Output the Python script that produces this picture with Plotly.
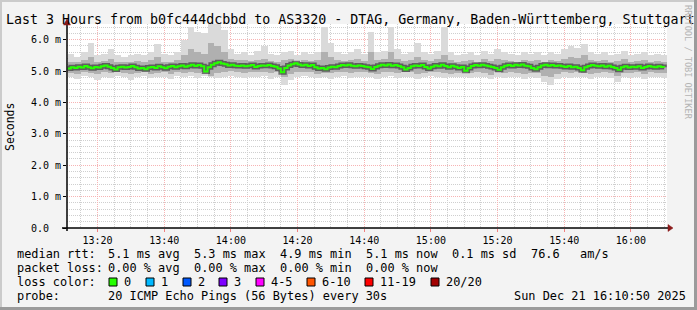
import plotly.graph_objects as go
import pandas as pd

# ---------------- data ----------------
title_text = "Last 3 Hours from b0fc444dcbbd to AS3320 - DTAG, Germany, Baden-Württemberg, Stuttgart"
range_start = "2025-12-21 13:10:50"
range_end = "2025-12-21 16:10:50"

# median rtt (ms), one value per minute from 13:11
median_rtt = [
    5.08, 5.12, 5.10, 5.14, 5.11, 5.16, 5.12, 5.09, 5.13, 5.11,
    5.15, 5.18, 5.14, 5.10, 5.05, 5.12, 5.14, 5.11, 5.13, 5.16,
    5.12, 5.08, 5.10, 5.06, 5.11, 5.13, 5.10, 5.15, 5.12, 5.09,
    5.14, 5.16, 5.12, 5.15, 5.18, 5.14, 5.17, 5.20, 5.16, 5.19,
    5.15, 4.99, 5.12, 5.20, 5.25, 5.28, 5.24, 5.22, 5.18, 5.20,
    5.17, 5.16, 5.18, 5.15, 5.17, 5.19, 5.13, 5.16, 5.18, 5.17,
    5.19, 5.16, 5.14, 5.08, 4.96, 5.10, 5.18, 5.22, 5.25, 5.21,
    5.18, 5.20, 5.16, 5.19, 5.12, 5.08, 5.10, 5.06, 5.11, 5.14,
    5.12, 5.16, 5.19, 5.18, 5.20, 5.17, 5.15, 5.18, 5.16, 5.14,
    5.12, 5.07, 5.13, 5.17, 5.20, 5.18, 5.21, 5.17, 5.19, 5.16,
    5.12, 5.05, 5.10, 5.15, 5.18, 5.16, 5.19, 5.13, 5.08, 5.14,
    5.18, 5.15, 5.20, 5.16, 5.12, 5.17, 5.14, 5.10, 5.13, 5.01,
    5.10, 5.16, 5.19, 5.17, 5.20, 5.18, 5.15, 5.13, 5.10, 5.04,
    5.12, 5.17, 5.19, 5.16, 5.20, 5.18, 5.21, 5.17, 5.15, 5.10,
    5.06, 5.12, 5.18, 5.20, 5.17, 5.19, 5.16, 5.18, 5.15, 5.13,
    5.16, 5.12, 5.14, 5.10, 5.03, 5.12, 5.16, 5.19, 5.17, 5.15,
    5.18, 5.14, 5.17, 5.13, 5.10, 5.04, 5.12, 5.15, 5.11, 5.14,
    5.12, 5.15, 5.10, 5.13, 5.16, 5.14, 5.12, 5.15, 5.13, 5.12,
]

# smoke extents (ms), one value per 2-minute bin from 13:11
smoke_outer_hi = [
    5.55, 5.45, 5.60, 5.90, 5.50, 5.55, 5.70, 5.50, 5.45, 5.50,
    5.55, 5.50, 5.60, 5.85, 5.55, 5.50, 5.60, 6.00, 6.40, 6.25,
    6.20, 6.50, 6.50, 6.30, 5.70, 5.55, 5.60, 5.50, 5.65, 5.80,
    5.55, 5.50, 5.60, 5.65, 5.50, 5.60, 5.55, 5.60, 6.40, 5.90,
    5.60, 5.55, 5.60, 5.70, 5.55, 6.25, 5.60, 5.65, 6.40, 5.70,
    5.55, 5.60, 5.90, 5.60, 5.55, 5.65, 6.40, 5.60, 5.50, 5.55,
    5.60, 5.50, 5.65, 5.55, 5.70, 5.60, 5.55, 5.50, 5.60, 5.55,
    5.60, 5.50, 5.60, 5.55, 5.70, 5.80, 5.75, 5.85, 5.60, 5.55,
    5.60, 5.50, 5.55, 5.65, 5.50, 5.55, 5.60, 5.50, 5.55, 5.50,
]
smoke_outer_lo = [
    4.80, 4.75, 4.85, 4.80, 4.70, 4.82, 4.78, 4.85, 4.80, 4.72,
    4.80, 4.85, 4.78, 4.80, 4.82, 4.75, 4.85, 4.80, 4.83, 4.78,
    4.85, 4.80, 4.78, 4.82, 4.85, 4.80, 4.78, 4.82, 4.80, 4.85,
    4.75, 4.80, 4.55, 4.70, 4.80, 4.85, 4.80, 4.78, 4.82, 4.75,
    4.80, 4.85, 4.78, 4.80, 4.82, 4.80, 4.75, 4.80, 4.85, 4.78,
    4.80, 4.82, 4.75, 4.80, 4.85, 4.80, 4.78, 4.80, 4.82, 4.80,
    4.78, 4.82, 4.80, 4.75, 4.80, 4.78, 4.82, 4.80, 4.75, 4.80,
    4.78, 4.65, 4.55, 4.75, 4.80, 4.78, 4.82, 4.80, 4.75, 4.80,
    4.82, 4.78, 4.65, 4.80, 4.78, 4.80, 4.75, 4.82, 4.80, 4.78,
]
smoke_mid_hi = [
    5.30, 5.28, 5.35, 5.45, 5.30, 5.32, 5.40, 5.30, 5.28, 5.30,
    5.32, 5.30, 5.35, 5.45, 5.30, 5.30, 5.35, 5.50, 5.70, 5.60,
    5.55, 5.90, 5.80, 5.60, 5.40, 5.35, 5.35, 5.32, 5.35, 5.40,
    5.32, 5.30, 5.35, 5.38, 5.30, 5.35, 5.32, 5.35, 5.60, 5.45,
    5.35, 5.32, 5.35, 5.40, 5.32, 5.60, 5.35, 5.38, 5.60, 5.40,
    5.32, 5.35, 5.45, 5.35, 5.32, 5.38, 5.50, 5.35, 5.30, 5.32,
    5.35, 5.30, 5.38, 5.32, 5.40, 5.35, 5.32, 5.30, 5.35, 5.32,
    5.35, 5.30, 5.35, 5.32, 5.40, 5.45, 5.42, 5.50, 5.35, 5.32,
    5.35, 5.30, 5.32, 5.38, 5.30, 5.32, 5.35, 5.30, 5.32, 5.30,
]
smoke_mid_lo = [
    4.95, 4.92, 4.97, 4.95, 4.90, 4.96, 4.93, 4.97, 4.95, 4.90,
    4.95, 4.97, 4.92, 4.95, 4.96, 4.92, 4.97, 4.95, 4.97, 4.95,
    4.97, 4.85, 4.95, 4.97, 5.00, 4.96, 4.95, 4.97, 4.96, 4.98,
    4.95, 4.97, 4.80, 4.92, 4.97, 4.98, 4.96, 4.90, 4.93, 4.95,
    4.97, 4.98, 4.95, 4.96, 4.97, 4.95, 4.90, 4.96, 4.98, 4.95,
    4.96, 4.97, 4.92, 4.95, 4.98, 4.96, 4.95, 4.90, 4.95, 4.96,
    4.94, 4.97, 4.95, 4.88, 4.96, 4.94, 4.97, 4.95, 4.90, 4.95,
    4.94, 4.85, 4.80, 4.90, 4.96, 4.94, 4.97, 4.95, 4.90, 4.95,
    4.96, 4.93, 4.85, 4.95, 4.94, 4.96, 4.92, 4.96, 4.95, 4.94,
]

y_tick_vals = [0, 1, 2, 3, 4, 5, 6]
y_tick_text = ["0.0\u00a0\u00a0", "1.0 m", "2.0 m", "3.0 m", "4.0 m", "5.0 m", "6.0 m"]

rtt_labels = ["median rtt:", "5.1 ms avg", "5.3 ms max", "4.9 ms min", "5.1 ms now", "0.1 ms sd", "76.6", "am/s"]
loss_labels = ["packet loss:", "0.00 % avg", "0.00 % max", "0.00 % min", "0.00 % now"]
loss_color_names = ["0", "1", "2", "3", "4-5", "6-10", "11-19", "20/20"]
loss_color_values = ["#26ff00", "#00b8ff", "#0059ff", "#7e00ff", "#ff00ff", "#ff5500", "#ff0000", "#a10000"]
probe_labels = ["probe:", "20 ICMP Echo Pings (56 Bytes) every 30s", "Sun Dec 21 16:10:50 2025"]

# ---------------- layout helpers ----------------
W, H = 697, 310
PL, PR, PT, PB = 67, 667, 24, 228
FONT = "DejaVu Sans Mono"


def px(x):
    return (x - PL) / (PR - PL)


def py(y):
    return (PB - y) / (PB - PT)


med_t = pd.date_range("2025-12-21 13:11:00", periods=len(median_rtt), freq="1min")
bin_t = pd.date_range("2025-12-21 13:12:00", periods=len(smoke_outer_hi), freq="2min")

fig = go.Figure()
fig.add_trace(go.Bar(
    x=bin_t, base=smoke_outer_lo,
    y=[h - l for h, l in zip(smoke_outer_hi, smoke_outer_lo)],
    width=120000, marker=dict(color="#dadada", line=dict(width=0)),
    hoverinfo="skip", showlegend=False))
fig.add_trace(go.Bar(
    x=bin_t, base=smoke_mid_lo,
    y=[h - l for h, l in zip(smoke_mid_hi, smoke_mid_lo)],
    width=120000, marker=dict(color="#b0b0b0", line=dict(width=0)),
    hoverinfo="skip", showlegend=False))
fig.add_trace(go.Scatter(
    x=med_t, y=median_rtt, mode="lines", line=dict(color="rgba(40,40,40,0.6)", width=5, shape="hv"),
    hoverinfo="skip", showlegend=False))
fig.add_trace(go.Scatter(
    x=med_t, y=median_rtt, mode="lines", line=dict(color="#26ff00", width=2, shape="hv"),
    hoverinfo="skip", showlegend=False))

shapes = []
# frame shading
shapes.append(dict(type="rect", xref="paper", yref="paper", x0=px(0), x1=px(W), y0=py(0), y1=py(2),
                   fillcolor="#cbcbcb", line=dict(width=0), layer="below"))
shapes.append(dict(type="rect", xref="paper", yref="paper", x0=px(0), x1=px(2), y0=py(0), y1=py(H),
                   fillcolor="#cbcbcb", line=dict(width=0), layer="below"))
shapes.append(dict(type="rect", xref="paper", yref="paper", x0=px(W - 3), x1=px(W), y0=py(0), y1=py(H),
                   fillcolor="#9b9b9b", line=dict(width=0), layer="below"))
shapes.append(dict(type="rect", xref="paper", yref="paper", x0=px(0), x1=px(W), y0=py(H - 3), y1=py(H),
                   fillcolor="#9b9b9b", line=dict(width=0), layer="below"))
# axes
shapes.append(dict(type="line", xref="paper", yref="paper", x0=px(62), x1=px(669), y0=py(228), y1=py(228),
                   line=dict(color="#000000", width=1.5)))
shapes.append(dict(type="line", xref="paper", yref="paper", x0=px(67), x1=px(67), y0=py(231), y1=py(24),
                   line=dict(color="#000000", width=1.5)))
shapes.append(dict(type="path", xref="paper", yref="paper",
                   path=f"M {px(668)},{py(224.5)} L {px(673)},{py(228)} L {px(668)},{py(231.5)} Z",
                   fillcolor="#8b1a1a", line=dict(color="#8b1a1a", width=0.5)))
shapes.append(dict(type="path", xref="paper", yref="paper",
                   path=f"M {px(63.5)},{py(25)} L {px(67)},{py(19)} L {px(70.5)},{py(25)} Z",
                   fillcolor="#8b1a1a", line=dict(color="#8b1a1a", width=0.5)))

annotations = []


def txt(x, y, s, size=11.9, color="#000000", angle=0, anchor="left"):
    annotations.append(dict(x=px(x), y=py(y), xref="paper", yref="paper", text=s, showarrow=False,
                            xanchor=anchor, yanchor="middle", textangle=angle, borderpad=0,
                            font=dict(family=FONT, size=size, color=color)))


txt(5, 19, title_text, size=13.3)
txt(10, 127, "Seconds", size=11.5, angle=-90, anchor="center")
txt(688, 62, "RRDTOOL / TOBI OETIKER", size=8.6, color="#b4b4b4", angle=90, anchor="center")

col_x = [16, 107, 193, 279, 365, 451, 530, 579]
for i, s in enumerate(rtt_labels):
    txt(col_x[i], 254, s)
for i, s in enumerate(loss_labels):
    txt(col_x[i], 268, s)
txt(16, 282, "loss color:")
box_x = [109, 146, 183, 219, 256, 307, 365, 431]
for bx, name, c in zip(box_x, loss_color_names, loss_color_values):
    shapes.append(dict(type="rect", xref="paper", yref="paper", x0=px(bx), x1=px(bx + 8),
                       y0=py(278), y1=py(286), fillcolor=c, line=dict(color="#000000", width=1)))
    txt(bx + 14, 282, name)
txt(16, 296, probe_labels[0])
txt(107, 296, probe_labels[1])
txt(513, 296, probe_labels[2])

fig.update_layout(
    width=W, height=H,
    margin=dict(l=PL, r=W - PR, t=PT, b=H - PB, pad=0),
    paper_bgcolor="#f3f3f3", plot_bgcolor="#ffffff",
    barmode="overlay", bargap=0,
    showlegend=False,
    shapes=shapes, annotations=annotations,
    xaxis=dict(
        type="date", range=[range_start, range_end],
        tick0="2025-12-21 13:20:00", dtick=1200000, tickformat="%H:%M",
        ticks="outside", ticklen=3, tickcolor="#f08080",
        tickfont=dict(family=FONT, size=10, color="#000000"),
        showgrid=True, gridcolor="#f7b4b4", griddash="1px,1px", gridwidth=1,
        minor=dict(dtick=300000, tick0="2025-12-21 13:20:00", showgrid=True,
                   gridcolor="#cfcfcf", griddash="1px,1px", gridwidth=1),
        showline=False, zeroline=False, fixedrange=True,
    ),
    yaxis=dict(
        range=[0, 6.5], tickvals=y_tick_vals, ticktext=y_tick_text,
        ticks="outside", ticklen=3, tickcolor="#000000",
        tickfont=dict(family=FONT, size=10, color="#000000"),
        showgrid=True, gridcolor="#f7b4b4", griddash="1px,1px", gridwidth=1,
        minor=dict(dtick=0.2, tick0=0, showgrid=True,
                   gridcolor="#cfcfcf", griddash="1px,1px", gridwidth=1),
        showline=False, zeroline=False, fixedrange=True,
    ),
)

fig.write_html("out.html")
